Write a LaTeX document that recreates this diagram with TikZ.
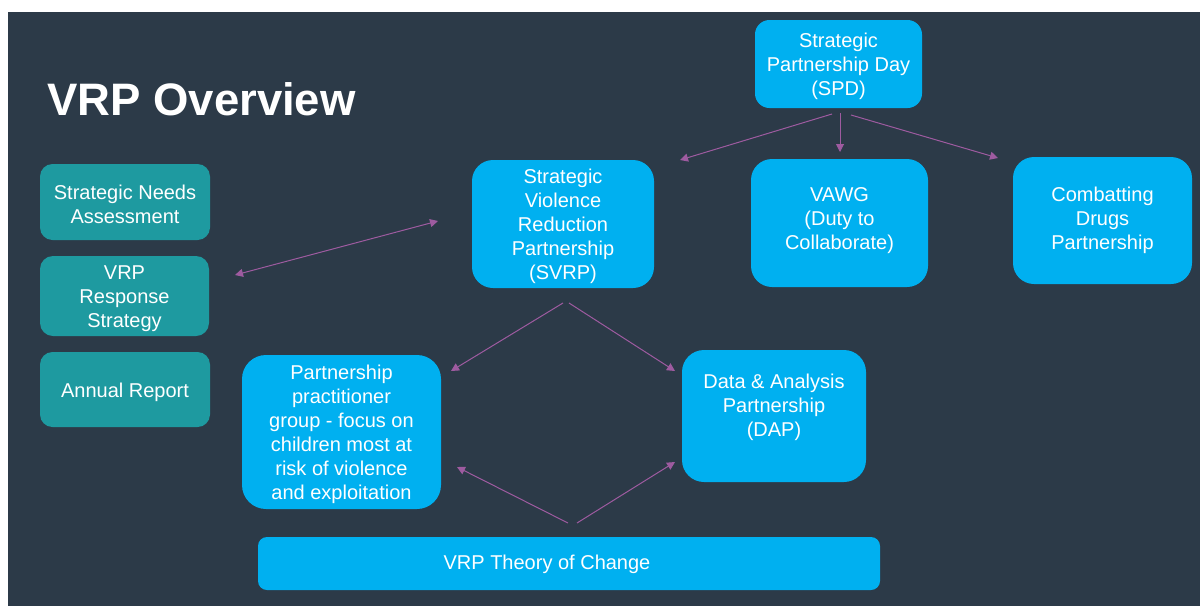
\documentclass[tikz,border=0pt]{standalone}
\usepackage{fontspec}
\setmainfont{Liberation Sans}
\usetikzlibrary{arrows.meta}
\definecolor{bg}{HTML}{2C3A48}
\definecolor{cyanbox}{HTML}{00B0F0}
\definecolor{tealbox}{HTML}{1E9AA0}
\definecolor{arrcol}{HTML}{9E5BA0}
\tikzset{
  cbox/.style={fill=cyanbox, draw=none, inner sep=0pt},
  tbox/.style={cbox, fill=tealbox},
  txt/.style={inner sep=0pt, text=white, align=center, font=\fontsize{20}{24}\selectfont},
  tip/.style={Triangle[length=8pt,width=8pt]},
  conn/.style={draw=arrcol, line width=1pt, -{Triangle[length=8pt,width=8pt]}},
  biconn/.style={draw=arrcol, line width=1pt, {Triangle[length=8pt,width=8pt]}-{Triangle[length=8pt,width=8pt]}}
}
\begin{document}
\begin{tikzpicture}[x=1pt,y=-1pt]
\useasboundingbox (0,0) rectangle (1200,606);
\fill[white] (0,0) rectangle (1200,606);
\fill[bg] (8,12) rectangle (1200,606);

\node[anchor=west, inner sep=0pt, text=white, font=\fontsize{45.5}{54}\selectfont\bfseries] (title) at (47,99) {VRP Overview};

% boxes
\node[cbox, rounded corners=14.5pt, minimum width=167pt, minimum height=88pt] (spd) at (838.5,64) {};
\node[txt] (spdt) at (838.5,66.5) {Strategic\\Partnership Day\\(SPD)};
\node[cbox, rounded corners=21pt, minimum width=182pt, minimum height=128pt] (svrp) at (563,224) {};
\node[txt] (svrpt) at (563,226.5) {Strategic\\Violence\\Reduction\\Partnership\\(SVRP)};
\node[cbox, rounded corners=21pt, minimum width=177pt, minimum height=128pt] (vawg) at (839.5,223) {};
\node[txt] (vawgt) at (839.5,220.5) {VAWG\\(Duty to\\Collaborate)};
\node[cbox, rounded corners=21pt, minimum width=179pt, minimum height=127pt] (cdp) at (1102.5,220.5) {};
\node[txt] (cdpt) at (1102.5,220.5) {Combatting\\Drugs\\Partnership};

\node[tbox, rounded corners=12.5pt, minimum width=170pt, minimum height=76pt] (sna) at (125,202) {};
\node[txt] (snat) at (125,204) {Strategic Needs\\Assessment};
\node[tbox, rounded corners=13pt, minimum width=169pt, minimum height=80pt] (vrs) at (124.5,296) {};
\node[txt] (vrst) at (124.5,298.5) {VRP\\Response\\Strategy};
\node[tbox, rounded corners=12.5pt, minimum width=170pt, minimum height=75pt] (ar) at (125,389.5) {};
\node[txt] (art) at (125,392) {Annual Report};

\node[cbox, rounded corners=24pt, minimum width=199pt, minimum height=154pt] (ppg) at (341.5,432) {};
\node[txt] (ppgt) at (341.5,434.5) {Partnership\\practitioner\\group - focus on\\children most at\\risk of violence\\and exploitation};
\node[cbox, rounded corners=22pt, minimum width=184pt, minimum height=132pt] (dap) at (774,416) {};
\node[txt] (dapt) at (774,407.5) {Data \& Analysis\\Partnership\\(DAP)};
\node[cbox, rounded corners=9pt, minimum width=622pt, minimum height=53pt] (toc) at (569,563.5) {};
\node[txt] (toct) at (547,564) {VRP Theory of Change};

% connector end points
\coordinate (a1s) at (832,114); \coordinate (a1e) at (680,160);
\coordinate (a2s) at (840,113); \coordinate (a2e) at (840,152);
\coordinate (a3s) at (851,115); \coordinate (a3e) at (998,158);
\coordinate (a4s) at (235,275); \coordinate (a4e) at (438,221);
\coordinate (a5s) at (563,303); \coordinate (a5e) at (451,371);
\coordinate (a6s) at (569,303); \coordinate (a6e) at (675,371);
\coordinate (a7s) at (568,523); \coordinate (a7e) at (457,467);
\coordinate (a8s) at (577,523); \coordinate (a8e) at (675,462);

\draw[conn] (a1s) -- (a1e);
\draw[conn] (a2s) -- (a2e);
\draw[conn] (a3s) -- (a3e);
\draw[biconn] (a4s) -- (a4e);
\draw[conn] (a5s) -- (a5e);
\draw[conn] (a6s) -- (a6e);
\draw[conn] (a7s) -- (a7e);
\draw[conn] (a8s) -- (a8e);
\end{tikzpicture}
\end{document}
